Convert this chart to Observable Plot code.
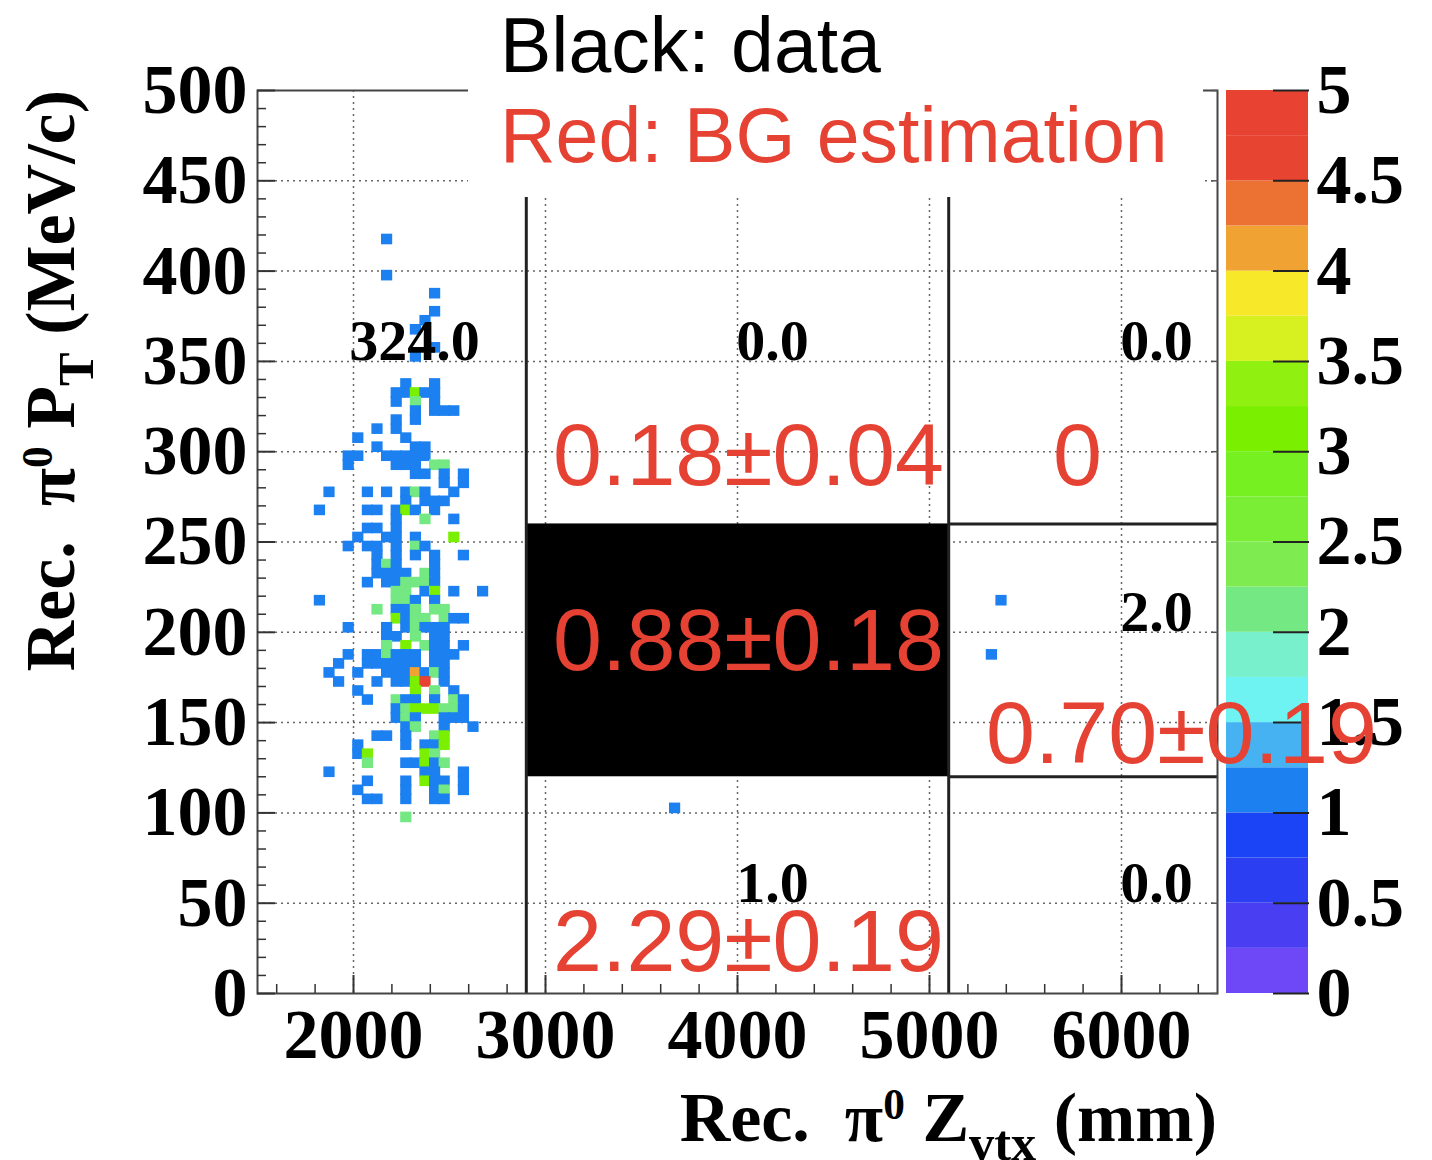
<!DOCTYPE html>
<html>
<head>
<meta charset="utf-8">
<script src="https://cdn.jsdelivr.net/npm/d3@7"></script>
<script src="https://cdn.jsdelivr.net/npm/@observablehq/plot@0.6"></script>
<style>
  body { margin: 0; background: #fff; }
  #wrap { position: relative; width: 1432px; height: 1160px; overflow: hidden; background: #fff; }
  .abs { position: absolute; }
  .serif { font-family: "Liberation Serif", "Times New Roman", serif; font-weight: bold; color: #000; white-space: nowrap; }
  .sans { font-family: "Liberation Sans", Arial, Helvetica, sans-serif; white-space: nowrap; }
  .sup { font-size: 0.62em; position: relative; top: -0.5em; }
  .sub { font-size: 0.72em; position: relative; top: 0.38em; }
</style>
</head>
<body>
<div id="wrap">
  <div id="cbar" class="abs" style="left:1226px; top:0;"></div>
  <div id="main" class="abs" style="left:0; top:0;"></div>
  <div id="legend" class="abs sans" style="left:468px; top:0; width:735px; height:197px; background:#fff; font-size:77px; line-height:77px;">
    <div class="abs" style="left:32px; top:7px; color:#000;">Black: data</div>
    <div class="abs" style="left:32px; top:97px; color:#e64233;">Red: BG estimation</div>
  </div>
  <div id="xtitle" class="abs serif" style="right:215px; top:1083px; font-size:70px; line-height:70px;">Rec.&nbsp; π<span class="sup">0</span> Z<span class="sub">vtx</span> (mm)</div>
  <div id="ytitle" class="abs serif" style="left:55px; top:90px; font-size:70px; line-height:70px; transform-origin:0 0; transform:rotate(-90deg) translate(-100%,-50%);">Rec.&nbsp; π<span class="sup">0</span> P<span class="sub">T</span> (MeV/c)</div>
</div>
<script>
// ---------------- data ----------------
// histogram bin size (mm, MeV/c)
const binZ = 50;
const binPT = 5;

// Rows of the 2D histogram: [PT bin lower edge, cells]; a cell is a Z lower edge (1 entry) or [Z, entries]
const histRows = [
  [415, [2150]],
  [395, [2150]],
  [385, [2400]],
  [375, [2400]],
  [370, [2350]],
  [365, [2300]],
  [355, [2400]],
  [350, [2300]],
  [335, [2250, 2400]],
  [330, [2200, 2250, [2300, 3], 2350, 2400]],
  [325, [2200, [2300, 2], 2400]],
  [320, [2300, 2400, 2450, 2500]],
  [315, [2200, 2300]],
  [310, [2100, 2200]],
  [305, [2000, 2250]],
  [300, [2100, 2300, 2350]],
  [295, [1950, 2000, 2150, 2200, 2250, 2300, 2350]],
  [290, [1950, 2200, 2250, 2300, [2400, 2], [2450, 2]]],
  [285, [2300, 2350, 2450, 2550]],
  [280, [2450, 2550]],
  [275, [1850, 2050, 2150, 2250, [2300, 2], 2350, 2500]],
  [270, [2250, 2350, 2400, 2450]],
  [265, [1800, 2050, 2100, 2200, [2250, 3], 2300, 2400]],
  [260, [2200, [2350, 2], 2500]],
  [255, [2050, 2100, 2200]],
  [250, [2000, 2150, 2200, 2300, [2500, 3]]],
  [245, [1950, 2050, 2100, 2200, [2300, 2], 2350]],
  [240, [2100, 2200, 2300, 2400, 2550]],
  [235, [2100, [2150, 2], 2200, 2400]],
  [230, [2100, 2150, 2200, 2250, [2350, 2], 2400]],
  [225, [2050, 2150, 2200, [2250, 2], [2300, 2], [2350, 2], 2400]],
  [220, [[2200, 2], [2250, 2], 2350, [2400, 3], 2500, 2650]],
  [215, [1800, [2200, 2], [2250, 2], 2300, 2400]],
  [210, [[2100, 2], 2200, 2250, [2300, 2], [2400, 2], [2450, 2]]],
  [205, [[2200, 3], 2250, [2300, 2], [2350, 2], [2450, 2], 2500, 2550]],
  [200, [1950, 2150, 2250, [2300, 2], 2350, 2400, 2450]],
  [195, [2150, 2200, [2300, 2], 2400, 2450]],
  [190, [[2150, 2], [2250, 3], [2350, 2], 2400, 2450, 2550]],
  [185, [1950, 2050, 2100, [2150, 2], 2200, 2250, 2300, 2400, 2450, 2500]],
  [180, [1900, 2050, 2100, 2150, 2200, 2250, 2300, 2400, 2450]],
  [175, [1850, 2000, 2150, 2200, 2250, [2300, 4], 2350, [2400, 2], 2450]],
  [170, [1900, 2100, 2200, 2250, [2300, 3], [2350, 5], 2450]],
  [165, [2000, [2300, 3], [2400, 2], 2500]],
  [160, [2050, [2200, 2], 2250, 2300, 2400, [2500, 2], 2550]],
  [155, [2200, [2250, 2], [2300, 3], [2350, 3], [2400, 3], [2450, 2], [2500, 2], 2550]],
  [150, [2200, [2250, 2], 2300, 2450, 2500, 2550]],
  [145, [2250, [2300, 2], 2450, 2600]],
  [140, [2100, 2150, 2250, [2400, 2], [2450, 3]]],
  [135, [2000, 2250, 2350, 2400, [2450, 3]]],
  [130, [2000, [2050, 3], [2350, 3], [2400, 2]]],
  [125, [[2050, 2], 2250, 2300, [2350, 3], 2400, [2450, 2]]],
  [120, [1850, 2350, 2400, 2550]],
  [115, [2050, 2250, [2350, 3], 2400, 2450, 2550]],
  [110, [2000, 2250, 2400, [2450, 2], 2550]],
  [105, [2050, 2100, 2250, 2400, 2450]],
  [95, [[2250, 2]]]
];
// isolated single entries outside the left region: [Z, PT]
const otherCells = [[5350, 215], [5300, 185], [3650, 100]];

// region boundaries
const regionZ = [2900, 5100];
const regionPT = [120, 260];

// black (data) counts per region
const countValues = [324, 0, 0, 2, 1, 0];
const countZ = [2318, 4182, 6182, 6182, 4182, 6182];
const countPT = [361, 361, 361, 211, 61, 61];

// red BG estimates
const bgMean = ["0.18", "0", "0.88", "0.70", "2.29"];
const bgErr = ["0.04", null, "0.18", "0.19", "0.19"];
const bgZ = [4057, 5771, 4057, 6312, 4057];
const bgPT = [297, 297, 195, 143, 28];

// axes ticks
const majorZ = [2000, 3000, 4000, 5000, 6000];
const minorZ = [1600, 1800, 2200, 2400, 2600, 2800, 3200, 3400, 3600, 3800, 4200, 4400, 4600, 4800, 5200, 5400, 5600, 5800, 6200, 6400];
const majorPT = [0, 50, 100, 150, 200, 250, 300, 350, 400, 450, 500];
const gridPT = [50, 100, 150, 200, 250, 300, 350, 400, 450];

// palette (20 contours from 0 to 5)
const contourStep = 0.25;
const paletteColors = [
  "#6e48f6", "#4a3ef2", "#2c3ef2", "#1a44f5",
  "#1c80f0", "#46b2f2", "#6ef2f2", "#78f0cc",
  "#74e882", "#7eec50", "#7aee34", "#76f020",
  "#7af000", "#90f010", "#d6f020", "#f8e82a",
  "#f0a232", "#ec7234", "#e84432", "#e84232"
];
const colorTicks = [0, 0.5, 1, 1.5, 2, 2.5, 3, 3.5, 4, 4.5, 5];

// ---------------- build tables ----------------
const cells = [];
for (const [pt, list] of histRows) {
  for (const c of list) {
    const [z, n] = Array.isArray(c) ? c : [c, 1];
    cells.push({z, pt, n});
  }
}
for (const [z, pt] of otherCells) cells.push({z, pt, n: 1});

const thresholds = paletteColors.slice(1).map((_, i) => (i + 1) * contourStep);
const minorPT = d3.range(0, 501, 10).filter(v => !majorPT.includes(v));

const counts = countValues.map((v, i) => ({z: countZ[i], pt: countPT[i], t: v.toFixed(1)}));
const bgs = bgMean.map((m, i) => ({z: bgZ[i], pt: bgPT[i], t: bgErr[i] ? `${m}±${bgErr[i]}` : m}));
const box = [{x1: regionZ[0], x2: regionZ[1], y1: regionPT[0], y2: regionPT[1]}];

const serif = "Liberation Serif, Times New Roman, serif";
const sans = "Liberation Sans, Arial, Helvetica, sans-serif";

const main = Plot.plot({
  width: 1432,
  height: 1160,
  marginTop: 90,
  marginRight: 215,
  marginBottom: 167,
  marginLeft: 257,
  style: {background: "transparent", color: "#000", fontFamily: serif, overflow: "visible"},
  x: {domain: [1500, 6500], label: null},
  y: {domain: [0, 500], label: null},
  color: {type: "threshold", domain: thresholds, range: paletteColors},
  marks: [
    Plot.gridX(majorZ, {stroke: "#666", strokeOpacity: 1, strokeWidth: 1.5, strokeDasharray: "2,4"}),
    Plot.gridY(gridPT, {stroke: "#666", strokeOpacity: 1, strokeWidth: 1.5, strokeDasharray: "2,4"}),
    Plot.rect(cells, {x1: "z", x2: d => d.z + binZ, y1: "pt", y2: d => d.pt + binPT, fill: "n", stroke: "n", strokeWidth: 1.6}),
    Plot.rect(box, {x1: "x1", x2: "x2", y1: "y1", y2: "y2", fill: "#000"}),
    Plot.ruleX(regionZ, {y1: 0, y2: 500, stroke: "#222", strokeWidth: 3}),
    Plot.ruleY(regionPT, {x1: regionZ[1], x2: 6500, stroke: "#222", strokeWidth: 3}),
    Plot.frame({stroke: "#444", strokeWidth: 2}),
    Plot.axisX(minorZ, {anchor: "bottom", tickSize: -9, tickFormat: () => "", label: null, stroke: "#333", strokeWidth: 1.5}),
    Plot.axisX(majorZ, {anchor: "bottom", tickSize: -18, tickPadding: 33, label: null, fontSize: 70, fontWeight: "bold", fontFamily: serif, stroke: "#333", strokeWidth: 2, tickFormat: d => String(d)}),
    Plot.axisY(minorPT, {anchor: "left", tickSize: -9, tickFormat: () => "", label: null, stroke: "#333", strokeWidth: 1.5}),
    Plot.axisY(majorPT, {anchor: "left", tickSize: -18, tickPadding: 28, label: null, fontSize: 70, fontWeight: "bold", fontFamily: serif, stroke: "#333", strokeWidth: 2, tickFormat: d => String(d)}),
    Plot.axisY(majorPT, {anchor: "right", tickSize: -7, tickFormat: () => "", label: null, stroke: "#555", strokeWidth: 1.5}),
    Plot.text(counts, {x: "z", y: "pt", text: "t", fontSize: 58, fontWeight: "bold", fontFamily: serif, fill: "#000"}),
    Plot.text(bgs, {x: "z", y: "pt", text: "t", fontSize: 88, fontFamily: sans, fill: "#e64233"})
  ]
});
document.getElementById("main").append(main);

const levels = paletteColors.map((c, i) => ({lo: i * contourStep, hi: (i + 1) * contourStep, c}));
const cbar = Plot.plot({
  width: 206,
  height: 1160,
  marginTop: 90,
  marginBottom: 167,
  marginLeft: 0,
  marginRight: 124,
  style: {background: "transparent", color: "#000", fontFamily: serif, overflow: "visible"},
  x: {domain: [0, 1], label: null, axis: null},
  y: {domain: [0, 5], label: null},
  color: {type: "identity"},
  marks: [
    Plot.rect(levels, {x1: 0, x2: 1, y1: "lo", y2: "hi", fill: "c"}),
    Plot.axisY(colorTicks, {anchor: "right", tickSize: -36, tickPadding: 44, label: null, fontSize: 70, fontWeight: "bold", fontFamily: serif, stroke: "#222", strokeWidth: 2, tickFormat: d => String(d)})
  ]
});
document.getElementById("cbar").append(cbar);
</script>
</body>
</html>
